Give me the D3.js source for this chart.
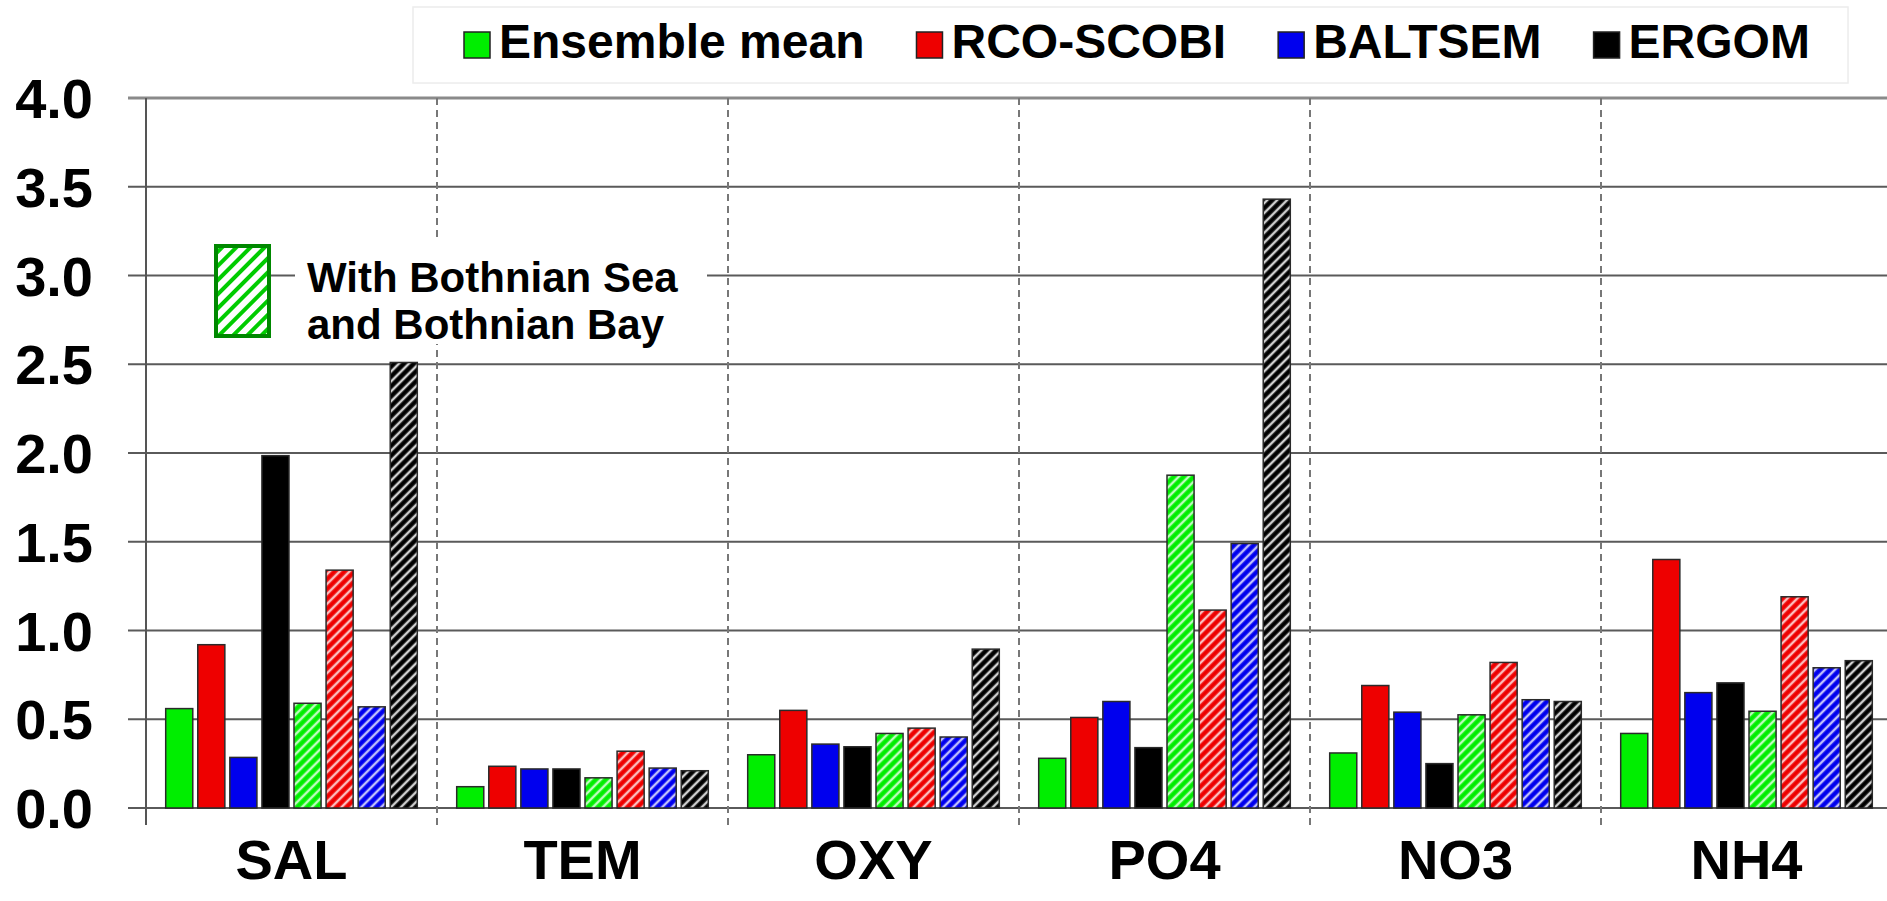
<!DOCTYPE html>
<html>
<head>
<meta charset="utf-8">
<script src="https://cdn.jsdelivr.net/npm/d3@7"></script>
<style>
  body { margin: 0; background: #fff; }
  svg { display: block; font-family: 'Liberation Sans', Arial, sans-serif; font-weight: bold; }
</style>
</head>
<body>
<div id="container"></div>
<script>
// variables on the x axis
const categories = ['SAL', 'TEM', 'OXY', 'PO4', 'NO3', 'NH4'];

// solid bars: without Bothnian Sea / Bothnian Bay
const ensembleMean = [0.56, 0.12, 0.30, 0.28, 0.31, 0.42];
const rcoScobi     = [0.92, 0.235, 0.55, 0.51, 0.69, 1.40];
const baltsem      = [0.285, 0.22, 0.36, 0.60, 0.54, 0.65];
const ergom        = [1.985, 0.22, 0.345, 0.34, 0.25, 0.705];

// hatched bars: with Bothnian Sea and Bothnian Bay
const ensembleMeanBB = [0.59, 0.17, 0.42, 1.875, 0.525, 0.545];
const rcoScobiBB     = [1.34, 0.32, 0.45, 1.115, 0.82, 1.19];
const baltsemBB      = [0.57, 0.225, 0.40, 1.49, 0.61, 0.79];
const ergomBB        = [2.51, 0.21, 0.895, 3.43, 0.60, 0.83];

const models = ['Ensemble mean', 'RCO-SCOBI', 'BALTSEM', 'ERGOM'];
const yTicks = [0, 0.5, 1, 1.5, 2, 2.5, 3, 3.5, 4];

const colours = ['#00ee00', '#ee0000', '#0000ee', '#000000'];

const series = [
  { key: 'em', model: 0, hatched: false, values: ensembleMean },
  { key: 'rco', model: 1, hatched: false, values: rcoScobi },
  { key: 'bal', model: 2, hatched: false, values: baltsem },
  { key: 'erg', model: 3, hatched: false, values: ergom },
  { key: 'emBB', model: 0, hatched: true, values: ensembleMeanBB },
  { key: 'rcoBB', model: 1, hatched: true, values: rcoScobiBB },
  { key: 'balBB', model: 2, hatched: true, values: baltsemBB },
  { key: 'ergBB', model: 3, hatched: true, values: ergomBB }
];

const W = 1887, H = 901;
const plotLeft = 146, plotTop = 98, plotBottom = 808;
const catWidth = 291;

const svg = d3.select('#container').append('svg')
  .attr('width', W)
  .attr('height', H);

const defs = svg.append('defs');
colours.forEach((c, i) => {
  const p = defs.append('pattern')
    .attr('id', `hatch-${i}`)
    .attr('patternUnits', 'userSpaceOnUse')
    .attr('width', 7).attr('height', 7)
    .attr('patternTransform', 'rotate(45)');
  p.append('rect').attr('width', 7).attr('height', 7).attr('fill', c);
  p.append('line')
    .attr('x1', 2).attr('y1', 0).attr('x2', 2).attr('y2', 7)
    .attr('stroke', i === 3 ? '#d0d0d0' : '#fff')
    .attr('stroke-opacity', i === 3 ? 1 : 0.75)
    .attr('stroke-width', 2.5);
});
const lp = defs.append('pattern')
  .attr('id', 'hatch-key')
  .attr('patternUnits', 'userSpaceOnUse')
  .attr('width', 10).attr('height', 10)
  .attr('patternTransform', 'rotate(45)');
lp.append('rect').attr('width', 10).attr('height', 10).attr('fill', '#fff');
lp.append('line')
  .attr('x1', 2).attr('y1', 0).attr('x2', 2).attr('y2', 10)
  .attr('stroke', '#00cc00').attr('stroke-width', 4);

const x0 = d3.scaleBand()
  .domain(categories)
  .range([plotLeft, plotLeft + catWidth * categories.length]);

const x1 = d3.scaleBand()
  .domain(series.map((s) => s.key))
  .range([19.7, catWidth - 19.7])
  .paddingInner(0.156);

const y = d3.scaleLinear()
  .domain([0, 4])
  .range([plotBottom, plotTop]);

// horizontal grid lines + ticks
svg.append('g').selectAll('line')
  .data(yTicks).enter()
  .append('line')
  .attr('x1', plotLeft - 18)
  .attr('x2', W)
  .attr('y1', (d) => y(d))
  .attr('y2', (d) => y(d))
  .attr('stroke', (d) => d === 4 ? '#8a8a8a' : '#5a5a5a')
  .attr('stroke-width', (d) => d === 4 ? 3 : 2);

// y tick labels
svg.append('g').selectAll('text')
  .data(yTicks).enter()
  .append('text')
  .attr('x', 93)
  .attr('y', (d) => y(d))
  .attr('dy', '0.36em')
  .attr('text-anchor', 'end')
  .style('font-size', '56px')
  .text((d) => d.toFixed(1));

// dashed separators between categories
svg.append('g').selectAll('line')
  .data(categories.slice(1)).enter()
  .append('line')
  .attr('x1', (d) => x0(d))
  .attr('x2', (d) => x0(d))
  .attr('y1', plotTop)
  .attr('y2', plotBottom + 17)
  .attr('stroke', '#777')
  .attr('stroke-width', 2)
  .attr('stroke-dasharray', '7,5');

// y axis line
svg.append('line')
  .attr('x1', plotLeft).attr('x2', plotLeft)
  .attr('y1', plotTop).attr('y2', plotBottom + 17)
  .attr('stroke', '#555')
  .attr('stroke-width', 2);

// bars
const groups = svg.append('g').selectAll('g')
  .data(categories).enter()
  .append('g')
  .attr('transform', (d) => `translate(${x0(d)},0)`);

groups.selectAll('rect')
  .data((d, i) => series.map((s) => ({ s, v: s.values[i] }))).enter()
  .append('rect')
  .attr('x', (d) => x1(d.s.key))
  .attr('y', (d) => y(d.v))
  .attr('width', x1.bandwidth())
  .attr('height', (d) => plotBottom - y(d.v))
  .attr('fill', (d) => d.s.hatched ? `url(#hatch-${d.s.model})` : colours[d.s.model])
  .attr('stroke', '#2a2a2a')
  .attr('stroke-width', 1.5);

// category labels
svg.append('g').selectAll('text')
  .data(categories).enter()
  .append('text')
  .attr('x', (d) => x0(d) + catWidth / 2)
  .attr('y', 879)
  .attr('text-anchor', 'middle')
  .style('font-size', '56px')
  .text((d) => d);

// legend
svg.append('rect')
  .attr('x', 413).attr('y', 7)
  .attr('width', 1435).attr('height', 76)
  .attr('fill', '#fff')
  .attr('stroke', '#ececec')
  .attr('stroke-width', 1.5);

let cursor = 464;
models.forEach((m, i) => {
  svg.append('rect')
    .attr('x', cursor).attr('y', 32)
    .attr('width', 26).attr('height', 26)
    .attr('fill', colours[i])
    .attr('stroke', '#222')
    .attr('stroke-width', 1.5);
  const t = svg.append('text')
    .attr('x', cursor + 35)
    .attr('y', 58)
    .style('font-size', '48px')
    .text(m);
  cursor += 35 + t.node().getComputedTextLength() + 52;
});

// hatched key annotation
svg.append('rect')
  .attr('x', 295).attr('y', 240)
  .attr('width', 412).attr('height', 104)
  .attr('fill', '#fff');

svg.append('rect')
  .attr('x', 216).attr('y', 246)
  .attr('width', 53).attr('height', 90)
  .attr('fill', 'url(#hatch-key)')
  .attr('stroke', '#008800')
  .attr('stroke-width', 4);

svg.append('text')
  .attr('x', 307).attr('y', 292)
  .style('font-size', '42px')
  .text('With Bothnian Sea');
svg.append('text')
  .attr('x', 307).attr('y', 339)
  .style('font-size', '42px')
  .text('and Bothnian Bay');
</script>
</body>
</html>
